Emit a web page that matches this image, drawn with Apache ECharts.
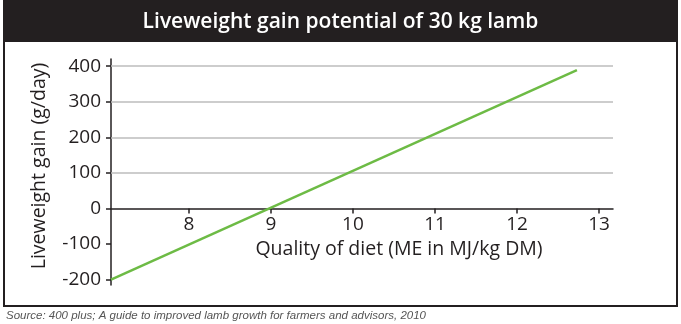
<!DOCTYPE html>
<html>
<head>
<meta charset="utf-8">
<script src="https://cdn.jsdelivr.net/npm/echarts@6/dist/echarts.min.js"></script>
<style>
  html, body { margin: 0; padding: 0; background: #fff; }
  #chart { width: 681px; height: 324px; }
</style>
</head>
<body>
<div id="chart"></div>
<script>
// 数据
var dietQuality = [7.05, 12.73];          // ME in MJ/kg DM
var gainValues = [-200, 389];             // g/day
var xTickLabels = [8, 9, 10, 11, 12, 13];
var yTickLabels = [-200, -100, 0, 100, 200, 300, 400];
var gridLineValues = [100, 200, 300, 400];

var textColor = '#231f20';
var ff = '"Open Sans", sans-serif';

var myChart = echarts.init(document.getElementById('chart'));

var lineData = [];
for (var i = 0; i < dietQuality.length; i++) {
    lineData.push([dietQuality[i], gainValues[i]]);
}
var markData = [];
for (var j = 0; j < gridLineValues.length; j++) {
    markData.push({yAxis: gridLineValues[j]});
}

var gridBottom = 39;

var option = {
    animation: false,
    title: {
        text: 'Liveweight gain potential of 30 kg lamb',
        left: 'center',
        top: 7,
        textStyle: {color: '#fff', fontSize: 21, fontWeight: 600, fontFamily: ff}
    },
    // 外框和标题栏
    graphic: [
        {
            type: 'rect', z: -1,
            shape: {x: 4, y: 1, width: 673, height: 305},
            style: {fill: '#fff', stroke: '#231f20', lineWidth: 2}
        },
        {
            type: 'rect', z: 0,
            shape: {x: 4, y: 1, width: 673, height: 41},
            style: {fill: '#231f20'}
        },
        {
            type: 'text', left: 6, top: 310,
            style: {
                text: 'Source: 400 plus; A guide to improved lamb growth for farmers and advisors, 2010',
                fill: '#555', fontSize: 11.5, fontStyle: 'italic', fontFamily: '"Liberation Sans", sans-serif'
            }
        }
    ],
    grid: {left: 111, right: 68, top: 59, bottom: gridBottom, outerBoundsMode: 'none', containLabel: false},
    xAxis: {
        type: 'value',
        min: 7.05,
        max: 13.17,
        name: 'Quality of diet (ME in MJ/kg DM)',
        nameLocation: 'middle',
        nameGap: 31,
        nameTextStyle: {color: textColor, fontSize: 19.5, fontFamily: ff, padding: [0, 0, 0, 74]},
        axisLine: {onZero: false, lineStyle: {color: textColor, width: 1.5}},
        axisTick: {show: true, length: 5, customValues: xTickLabels, lineStyle: {color: textColor, width: 1.5}},
        axisLabel: {customValues: xTickLabels, color: textColor, fontSize: 19, fontFamily: ff, margin: 7},
        splitLine: {show: false}
    },
    yAxis: {
        type: 'value',
        min: -215,
        max: 420,
        name: 'Liveweight gain (g/day)',
        nameLocation: 'middle',
        nameGap: 62,
        nameTextStyle: {color: textColor, fontSize: 19.5, fontFamily: ff, padding: [0, 0, 0, 12]},
        axisLine: {show: true, lineStyle: {color: textColor, width: 1.5}},
        axisTick: {show: true, length: 5, customValues: yTickLabels, lineStyle: {color: textColor, width: 1.5}},
        axisLabel: {customValues: yTickLabels, color: textColor, fontSize: 19, fontFamily: ff, margin: 10},
        splitLine: {show: false}
    },
    series: [
        {
            type: 'line',
            data: lineData,
            symbol: 'none',
            lineStyle: {color: '#6dbb45', width: 2.5},
            z: 5,
            markLine: {
                silent: true,
                symbol: 'none',
                label: {show: false},
                lineStyle: {color: '#bdbdbd', width: 1.5, type: 'solid'},
                z: 1,
                data: markData
            }
        }
    ]
};

myChart.setOption(option);

// x轴放到 y=0 的位置 (标签跟着轴走)
var zeroY = myChart.convertToPixel({yAxisIndex: 0}, 0);
myChart.setOption({xAxis: {offset: zeroY - (324 - gridBottom)}});
</script>
</body>
</html>
